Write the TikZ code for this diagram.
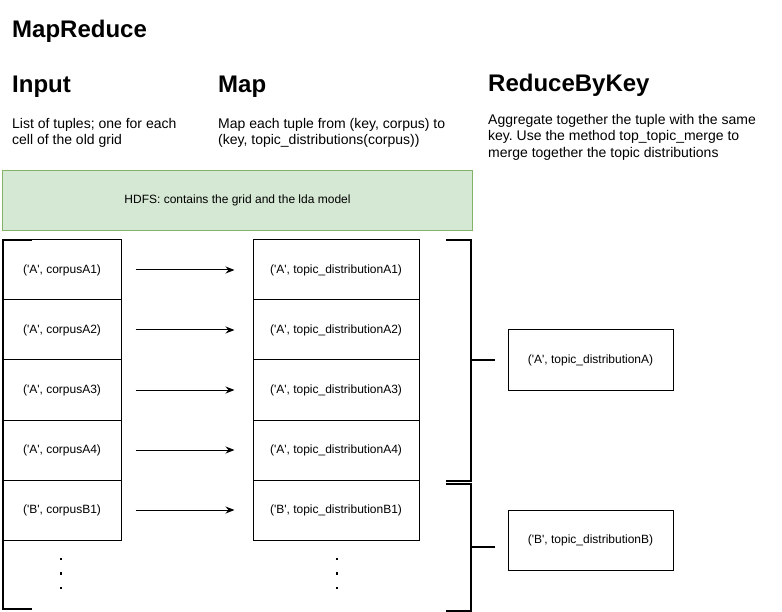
\documentclass[tikz,border=0pt]{standalone}
\usepackage{fontspec}
\setmainfont{Liberation Sans}
\usetikzlibrary{arrows.meta}
\definecolor{hdfsfill}{HTML}{D5E8D4}
\definecolor{hdfsline}{HTML}{82B366}
\newcommand{\sq}{\textquotesingle}
\frenchspacing
\tikzset{
  title/.style={anchor=base west, inner sep=0pt, font=\bfseries\fontsize{24}{28}\selectfont},
  heading/.style={anchor=base west, inner sep=0pt, font=\bfseries\fontsize{24}{28}\selectfont},
  body/.style={anchor=north west, inner sep=0pt, align=left, font=\fontsize{14}{16.3}\selectfont},
  small/.style={font=\fontsize{12}{14}\selectfont},
  tuplebox/.style={small, draw=black, line width=1pt, minimum width=118pt, minimum height=60pt, inner sep=0pt},
  topicbox/.style={small, draw=black, line width=1pt, minimum width=166pt, minimum height=60pt, inner sep=0pt},
  mergedbox/.style={small, draw=black, line width=1pt, minimum width=165pt, minimum height=60pt, inner sep=0pt},
  hdfsbox/.style={small, draw=hdfsline, fill=hdfsfill, line width=1pt, minimum width=470pt, minimum height=60pt, inner sep=0pt},
  flow/.style={line width=1pt, -{Stealth[length=9pt,width=7pt]}, shorten <=14pt, shorten >=18pt},
  bracket/.style={line width=2pt, line join=miter},
  dotmark/.style={fill=black, inner sep=0pt, minimum size=2.6pt},
}
\begin{document}
\begin{tikzpicture}[x=1pt,y=-1pt]
\useasboundingbox (0,0) rectangle (782,612);

% titles
\node[title] (ttl) at (12,38) {MapReduce};
\node[heading] (hin) at (12,93) {Input};
\node[heading] (hmap) at (218,93) {Map};
\node[heading] (hred) at (488,92) {ReduceByKey};

\node[body] (bin) at (12,118.3) {List of tuples; one for each\\cell of the old grid};
\node[body] (bmap) at (218,118.3) {Map each tuple from (key, corpus) to\\(key, topic\_distributions(corpus))};
\node[body] (bred) at (488,114.1) {Aggregate together the tuple with the same\\key. Use the method top\_topic\_merge to\\merge together the topic distributions};

% HDFS
\node[hdfsbox] (hdfs) at (237.5,200.5) {HDFS: contains the grid and the lda model};

% input tuples
\node[tuplebox] (a1) at (62,270) {(\sq A\sq, corpusA1)};
\node[tuplebox] (a2) at (62,330) {(\sq A\sq, corpusA2)};
\node[tuplebox] (a3) at (62,390) {(\sq A\sq, corpusA3)};
\node[tuplebox] (a4) at (62,450) {(\sq A\sq, corpusA4)};
\node[tuplebox] (b1) at (62,510) {(\sq B\sq, corpusB1)};

% mapped tuples
\node[topicbox] (ma1) at (336,270) {(\sq A\sq, topic\_distributionA1)};
\node[topicbox] (ma2) at (336,330) {(\sq A\sq, topic\_distributionA2)};
\node[topicbox] (ma3) at (336,390) {(\sq A\sq, topic\_distributionA3)};
\node[topicbox] (ma4) at (336,450) {(\sq A\sq, topic\_distributionA4)};
\node[topicbox] (mb1) at (336,510) {(\sq B\sq, topic\_distributionB1)};

% reduced tuples
\node[mergedbox] (ra) at (590.5,360) {(\sq A\sq, topic\_distributionA)};
\node[mergedbox] (rb) at (590.5,540) {(\sq B\sq, topic\_distributionB)};

% arrows
\draw[flow] (a1.east) -- (ma1.west);
\draw[flow] (a2.east) -- (ma2.west);
\draw[flow] (a3.east) -- (ma3.west);
\draw[flow] (a4.east) -- (ma4.west);
\draw[flow] (b1.east) -- (mb1.west);

% ellipsis dots
\node[dotmark] (dl1) at (61,559) {};
\node[dotmark] (dl2) at (61,573.5) {};
\node[dotmark] (dl3) at (61,588) {};
\node[dotmark] (dm1) at (337,559) {};
\node[dotmark] (dm2) at (337,573.5) {};
\node[dotmark] (dm3) at (337,588) {};

% brackets
\draw[bracket] (32,240) -- (3,240) -- (3,609) -- (32,609);
\draw[bracket] (446,240) -- (471,240) -- (471,481) -- (446,481);
\draw[bracket] (471,360) -- (495,360);
\draw[bracket] (446,484) -- (471,484) -- (471,610.5) -- (446,610.5);
\draw[bracket] (471,547) -- (495,547);
\end{tikzpicture}
\end{document}
